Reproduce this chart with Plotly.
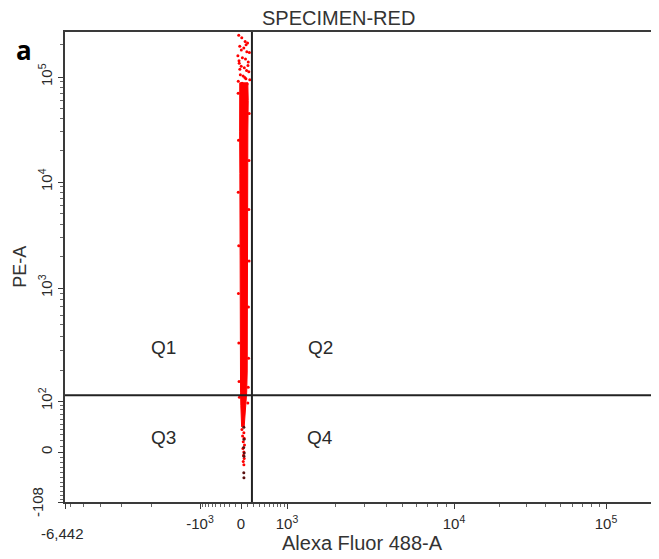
import numpy as np
import plotly.graph_objects as go

# --- values (raw instrument units) ---
# dense red column: PE-A levels with left / right Alexa Fluor 488-A edges
band_pe = [88000, 60000, 30000, 12000, 4000, 1500, 500, 200, 125, 90, 65, 45]
band_left = [-22, -26, -24, -20, -20, -18, -15, -12, -8, -3, 4, 10]
band_right = [108, 114, 108, 104, 102, 100, 98, 98, 90, 75, 60, 50]

# sparse events at the top of the column
top_x = [-40, 12, 65, 104, -22, 44, 92, 133, -55, 22, 71, 115, -31, 3, 52, 88, 124, -12, 33, 77, 140, -48, 17, 97, 60, -20,
         5, 80, -35, 110]
top_y = [245000, 232000, 214000, 207000, 193000, 186000, 172000, 169000, 158000, 151000, 147000, 138000,
         134000, 126000, 122000, 115000, 112000, 105000, 102000, 96000, 94000, 91000, 87000, 86000, 99000, 118000,
         178000, 200000, 142000, 128000]

# ragged events along the edges of the column
edge_x = [-50, 130, -44, 126, -48, 124, -40, 128, -45, 118, -38, 120, -34, 114, -28, 108]
edge_y = [70000, 45000, 25000, 16000, 8000, 5500, 2500, 1800, 900, 700, 350, 260, 160, 140, 110, 95]

# events below the horizontal gate
low_x = [15, 45, 25, 50, 35, 55, 30, 45, 40, 50, 35, 45]
low_y = [40, 34, 28, 24, 18, 12, 6, 0, -6, -12, -18, -24]
dark_x = [45, 48, 42, 50, 46, 44, 46]
dark_y = [44, 22, 8, -2, -8, -40, -50]

# quadrant gate position
gate_x = 175
gate_y = 116

x_major = [-6442, -1000, 0, 1000, 10000, 100000]
x_major_text = ["", "-10<sup>3</sup>", "0", "10<sup>3</sup>", "10<sup>4</sup>", "10<sup>5</sup>"]
y_major = [-108, 0, 100, 1000, 10000, 100000]
y_major_text = ["", "0", "10<sup>2</sup>", "10<sup>3</sup>", "10<sup>4</sup>", "10<sup>5</sup>"]


# biexponential-like display scale (asinh, pinned to the decade positions)
def make_scale(anchor_vals, anchor_pos, cof):
    s_anchor = np.arcsinh(np.asarray(anchor_vals, float) / cof)

    def f(v):
        return np.interp(np.arcsinh(np.asarray(v, float) / cof), s_anchor, anchor_pos)
    return f


xmap = make_scale([-6442, -1000, 0, 1000, 1e4, 1e5, 262144], [0, 135, 176, 222, 389, 541, 605], 500)
ymap = make_scale([-108, 0, 100, 1000, 1e4, 1e5, 262144], [0, 50, 101, 214, 320, 425, 470], 100)

x_minor = [-6000, -5000, -4000, -3000, -2000] + list(range(-900, 0, 100)) + list(range(100, 1000, 100)) \
    + list(range(2000, 10000, 1000)) + list(range(20000, 100000, 10000)) + [200000]
y_minor = list(range(-100, 0, 10)) + list(range(10, 100, 10)) + list(range(200, 1000, 100)) \
    + list(range(2000, 10000, 1000)) + list(range(20000, 100000, 10000)) + [200000]

RED = "#ff0000"
AXC = "#3a3a3a"
TXT = "#2a2a2a"
FONT = "Liberation Sans"

fig = go.Figure()

poly_x = band_left + band_right[::-1] + [band_left[0]]
poly_y = band_pe + band_pe[::-1] + [band_pe[0]]
fig.add_trace(go.Scatter(x=xmap(poly_x), y=ymap(poly_y), mode="lines", fill="toself",
                         fillcolor=RED, line=dict(color=RED, width=1), hoverinfo="skip"))
fig.add_trace(go.Scatter(x=xmap(top_x + edge_x + low_x), y=ymap(top_y + edge_y + low_y), mode="markers",
                         marker=dict(color=RED, size=3), hoverinfo="skip"))
fig.add_trace(go.Scatter(x=xmap(dark_x), y=ymap(dark_y), mode="markers",
                         marker=dict(color="#5a1010", size=3), hoverinfo="skip"))

# quadrant gate lines
fig.add_shape(type="line", xref="x", yref="paper", x0=float(xmap(gate_x)), x1=float(xmap(gate_x)), y0=0, y1=1,
              line=dict(color="#222222", width=2))
fig.add_shape(type="line", xref="paper", yref="y", x0=0, x1=1, y0=float(ymap(gate_y)), y1=float(ymap(gate_y)),
              line=dict(color="#222222", width=2))


def note(text, x, y, size, family=FONT, color=TXT, angle=0):
    fig.add_annotation(text=text, x=x, y=y, xref="paper", yref="paper", showarrow=False,
                       xanchor="center", yanchor="middle", textangle=angle,
                       font=dict(family=family, size=size, color=color))


for txt, px, py in [("Q1", 0.165, 0.328), ("Q2", 0.43, 0.328), ("Q3", 0.165, 0.138), ("Q4", 0.43, 0.138)]:
    note(txt, px, py, 19)

note("SPECIMEN-RED", 0.461, 1.03, 20, color="#333333")
note("<b>a</b>", -0.069, 0.962, 26, family="Open Sans", color="black")
note("Alexa Fluor 488-A", 0.5, -0.087, 20, color="#333333")
note("PE-A", -0.076, 0.5, 18, color="#333333", angle=-90)
note("-6,442", -0.005, -0.066, 15)
note("-108", -0.047, 0.0, 15, angle=-90)

fig.update_layout(
    width=651, height=551,
    margin=dict(l=57, r=0, t=24, b=57),
    plot_bgcolor="white", paper_bgcolor="white",
    showlegend=False,
    xaxis=dict(range=[0, 594], tickvals=xmap(x_major), ticktext=x_major_text,
               ticks="outside", ticklen=5, tickcolor=AXC, ticklabelstandoff=2,
               showline=True, linecolor=AXC, linewidth=2, mirror=True,
               showgrid=False, zeroline=False,
               tickfont=dict(family=FONT, size=15, color=TXT),
               minor=dict(tickvals=xmap(x_minor), ticks="outside", ticklen=3, tickcolor="#666666", showgrid=False)),
    yaxis=dict(range=[0, 470], tickvals=ymap(y_major), ticktext=y_major_text, tickangle=-90,
               ticks="outside", ticklen=5, tickcolor=AXC,
               showline=True, linecolor=AXC, linewidth=2,
               showgrid=False, zeroline=False,
               tickfont=dict(family=FONT, size=15, color=TXT),
               minor=dict(tickvals=ymap(y_minor), ticks="outside", ticklen=3, tickcolor="#666666", showgrid=False)),
)

fig.write_html("out.html")
